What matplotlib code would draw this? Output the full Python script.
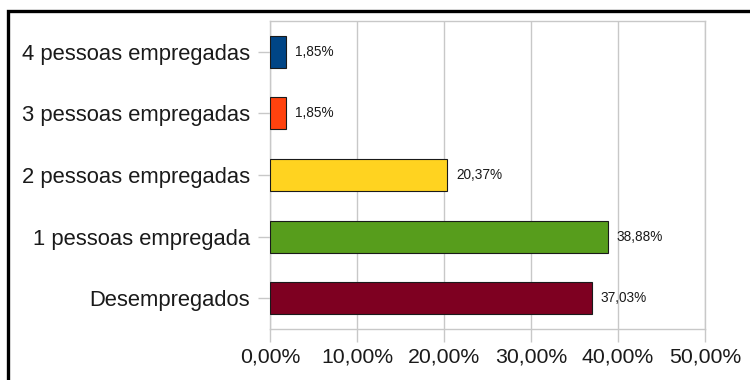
import matplotlib
matplotlib.use("Agg")
import matplotlib.pyplot as plt
from matplotlib.patches import Rectangle

categories = ["Desempregados", "1 pessoas empregada", "2 pessoas empregadas",
              "3 pessoas empregadas", "4 pessoas empregadas"]
values = [37.03, 38.88, 20.37, 1.85, 1.85]
colors = ["#7e0021", "#579d1c", "#ffd320", "#ff420e", "#004586"]
xticks = [0, 10, 20, 30, 40, 50]

plt.rcParams["font.family"] = ["Liberation Sans", "DejaVu Sans"]

fig = plt.figure(figsize=(7.5, 3.8), dpi=100)
ax = fig.add_axes([270 / 750, 1 - 329 / 380, 435 / 750, 308 / 380])

# outer frame around the chart
fig.patches.append(Rectangle((8 / 750, -0.1), 1.2, 1 - 11 / 380 + 0.1,
                             transform=fig.transFigure, fill=False,
                             edgecolor="black", linewidth=2.4, zorder=10))

y = range(len(categories))
ax.barh(y, values, height=0.52, color=colors, edgecolor="#1a1a1a",
        linewidth=0.8, zorder=3)

for yi, v in zip(y, values):
    ax.text(v + 1.0, yi, f"{v:.2f}%".replace(".", ","), va="center",
            ha="left", fontsize=9.8, color="#1a1a1a", zorder=4)

ax.set_xlim(0, 50)
ax.set_ylim(-0.5, len(categories) - 0.5)
ax.set_xticks(xticks)
ax.set_xticklabels([f"{t:.2f}%".replace(".", ",") for t in xticks])
ax.set_yticks(list(y))
ax.set_yticklabels(categories)

ax.grid(axis="x", color="#c8c8c8", linewidth=1.0, zorder=0)
for s in ax.spines.values():
    s.set_color("#c8c8c8")
    s.set_linewidth(1.0)

ax.tick_params(axis="both", colors="#c8c8c8", labelcolor="#1a1a1a",
               length=9, width=1.0)
ax.tick_params(axis="y", pad=5.5, labelsize=15.8)
ax.tick_params(axis="x", pad=4, labelsize=15.3)

fig.savefig("out.png", dpi=100)
